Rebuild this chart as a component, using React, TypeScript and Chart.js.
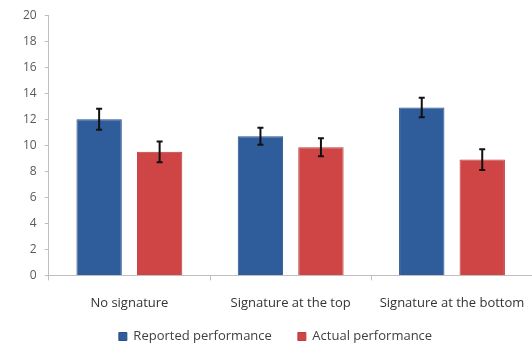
import React, { useEffect, useRef } from "react";
import { Chart, registerables } from "chart.js";

Chart.register(...registerables);

const categories = ["No signature", "Signature at the top", "Signature at the bottom"];
const reported = [12.0, 10.7, 12.9];
const reportedErr = [0.8, 0.65, 0.75];
const actual = [9.5, 9.85, 8.9];
const actualErr = [0.8, 0.7, 0.8];
const yTicks = [0, 2, 4, 6, 8, 10, 12, 14, 16, 18, 20];

const errorBars = {
  id: "errorBars",
  afterDatasetsDraw(chart: any) {
    const ctx = chart.ctx;
    const y = chart.scales.y;
    const errs = [reportedErr, actualErr];
    chart.data.datasets.forEach((ds: any, di: number) => {
      const meta = chart.getDatasetMeta(di);
      meta.data.forEach((el: any, i: number) => {
        const v = ds.data[i];
        const e = errs[di][i];
        const top = y.getPixelForValue(v + e);
        const bot = y.getPixelForValue(v - e);
        const x = el.x;
        ctx.save();
        ctx.strokeStyle = "#111";
        ctx.lineWidth = 2;
        ctx.beginPath();
        ctx.moveTo(x, top);
        ctx.lineTo(x, bot);
        ctx.moveTo(x - 3, top);
        ctx.lineTo(x + 3, top);
        ctx.moveTo(x - 3, bot);
        ctx.lineTo(x + 3, bot);
        ctx.stroke();
        ctx.restore();
      });
    });
  },
};

// legend uses a wide label padding for horizontal spacing; pull it up so the
// vertical position matches a tighter padding
const legendShift = {
  id: "legendShift",
  afterLayout(chart: any) {
    if (chart.legend) {
      chart.legend.top -= 22;
      chart.legend.bottom -= 22;
    }
  },
};

export default function App() {
  const ref = useRef<HTMLCanvasElement>(null);
  useEffect(() => {
    const chart = new Chart(ref.current!, {
      type: "bar",
      data: {
        labels: categories,
        datasets: [
          {
            label: "Reported performance",
            data: reported,
            backgroundColor: "#2F5C9A",
            borderColor: "#2A528A",
            borderWidth: 1,
            categoryPercentage: 0.75,
            barPercentage: 0.75,
          },
          {
            label: "Actual performance",
            data: actual,
            backgroundColor: "#CF4545",
            borderColor: "#BB3D3D",
            borderWidth: 1,
            categoryPercentage: 0.75,
            barPercentage: 0.75,
          },
        ],
      },
      options: {
        animation: false,
        responsive: true,
        maintainAspectRatio: false,
        layout: { padding: { left: 15, right: 4, top: 8, bottom: 4 } },
        plugins: {
          tooltip: { enabled: false },
          legend: {
            position: "bottom",
            labels: {
              boxWidth: 8,
              boxHeight: 8,
              padding: 26,
              color: "#404040",
              font: { family: "Open Sans", size: 13 },
            },
          },
        },
        scales: {
          x: {
            grid: {
              drawOnChartArea: false,
              offset: true,
              tickLength: 5,
              color: "#BFBFBF",
            },
            border: { color: "#BFBFBF" },
            ticks: {
              color: "#333",
              padding: 15,
              maxRotation: 0,
              font: { family: "Open Sans", size: 13 },
            },
          },
          y: {
            min: 0,
            max: 20,
            afterBuildTicks: (axis: any) => {
              axis.ticks = yTicks.map((v) => ({ value: v }));
            },
            grid: { drawOnChartArea: false, tickLength: 4, color: "#BFBFBF" },
            border: { color: "#BFBFBF" },
            ticks: {
              color: "#595959",
              padding: 8,
              font: { family: "Open Sans", size: 12 },
            },
          },
        },
      },
      plugins: [errorBars, legendShift],
    });
    return () => chart.destroy();
  }, []);
  return (
    <div style={{ position: "fixed", left: 0, top: 0, width: 540, height: 379, background: "#fff" }}>
      <canvas ref={ref} />
    </div>
  );
}
